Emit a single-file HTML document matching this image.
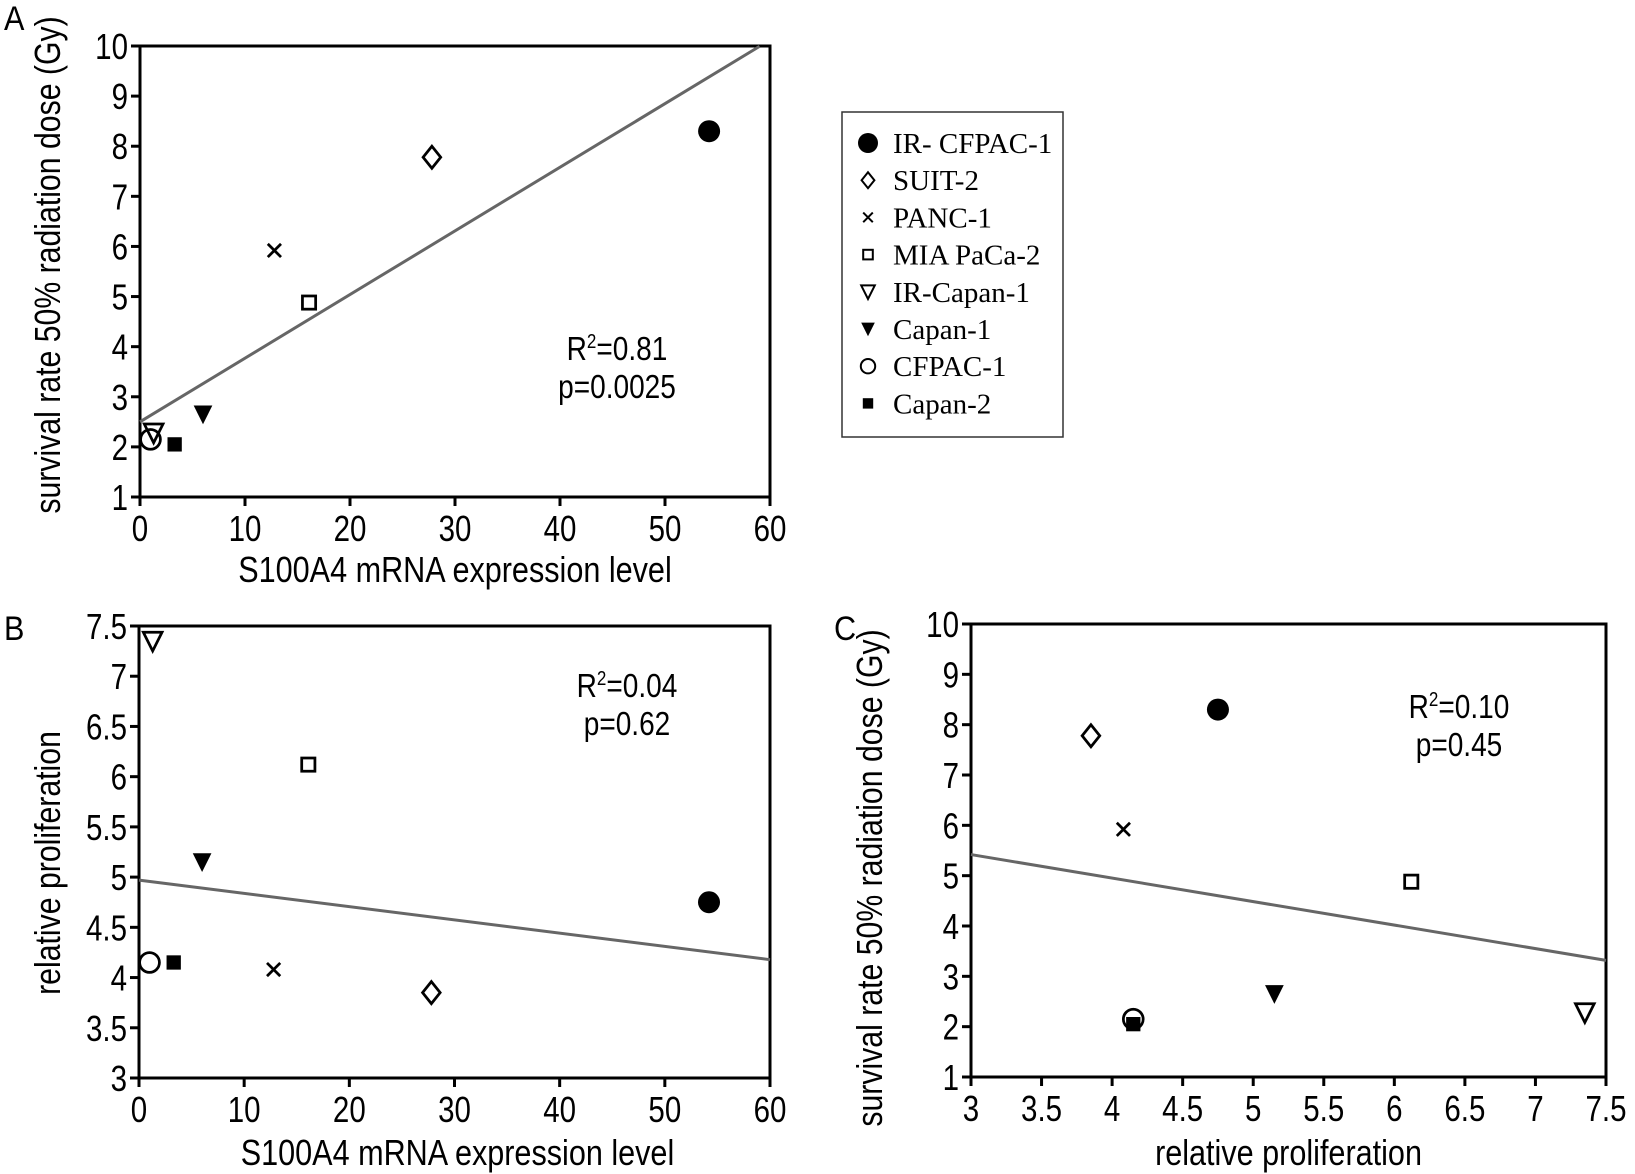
<!DOCTYPE html>
<html><head><meta charset="utf-8"><style>
html,body{margin:0;padding:0;background:#fff}
svg{display:block}
text{font-family:"Liberation Sans",sans-serif;fill:#000}
.serif{font-family:"Liberation Serif",serif}
</style></head><body>
<svg id="fig" width="1635" height="1174" viewBox="0 0 1635 1174"></svg>
<script>
const lines=["IR- CFPAC-1","SUIT-2","PANC-1","MIA PaCa-2","IR-Capan-1","Capan-1","CFPAC-1","Capan-2"];
const markers=["dot","diamond","cross","square","tri-open","tri-fill","circle","sqfill"];
const s100a4=[54.2,27.8,12.8,16.1,1.3,6.0,1.0,3.3];
const prolif=[4.75,3.85,4.08,6.12,7.35,5.15,4.15,4.15];
const dose=[8.3,7.78,5.92,4.88,2.28,2.65,2.15,2.05];
const fitA=[2.5,0.127];
const fitB=[4.97,-0.0132];
const fitC=[6.82,-0.467];
const ticksA_x=[0,10,20,30,40,50,60];
const ticksA_y=[1,2,3,4,5,6,7,8,9,10];
const ticksB_y=[3,3.5,4,4.5,5,5.5,6,6.5,7,7.5];
const ticksC_x=[3,3.5,4,4.5,5,5.5,6,6.5,7,7.5];

const NS="http://www.w3.org/2000/svg";
const svg=document.getElementById('fig');
function el(tag,attrs,parent){const e=document.createElementNS(NS,tag);for(const k in attrs)e.setAttribute(k,attrs[k]);(parent||svg).appendChild(e);return e;}
function txt(s,x,y,size,anchor,parent,sx,rot){
  const t=el('text',{'text-anchor':anchor||'middle','font-size':size,transform:`translate(${x},${y}) rotate(${rot||0}) scale(${sx||0.82},1)`},parent);
  t.textContent=s;return t;
}
function marker(type,cx,cy,s,parent){
  const g=el('g',{},parent);
  const sw=Math.max(2,s*0.25);
  if(type==='dot')el('ellipse',{cx,cy,rx:s*1.0,ry:s*1.0,fill:'#000'},g);
  else if(type==='circle')el('circle',{cx,cy,r:s*0.9,fill:'none',stroke:'#000','stroke-width':sw},g);
  else if(type==='diamond')el('polygon',{points:`${cx},${cy-s} ${cx+s*0.8},${cy} ${cx},${cy+s} ${cx-s*0.8},${cy}`,fill:'none',stroke:'#000','stroke-width':sw},g);
  else if(type==='cross'){const d=s*0.6;el('path',{d:`M${cx-d},${cy-d}L${cx+d},${cy+d}M${cx+d},${cy-d}L${cx-d},${cy+d}`,stroke:'#000','stroke-width':sw},g);}
  else if(type==='square'){const d=s*0.6;el('rect',{x:cx-d,y:cy-d,width:2*d,height:2*d,fill:'none',stroke:'#000','stroke-width':sw},g);}
  else if(type==='sqfill'){const d=s*0.65;el('rect',{x:cx-d,y:cy-d,width:2*d,height:2*d,fill:'#000'},g);}
  else if(type==='tri-open')el('polygon',{points:`${cx-s*0.85},${cy-s*0.8} ${cx+s*0.85},${cy-s*0.8} ${cx},${cy+s*0.9}`,fill:'none',stroke:'#000','stroke-width':sw},g);
  else if(type==='tri-fill')el('polygon',{points:`${cx-s*0.85},${cy-s*0.8} ${cx+s*0.85},${cy-s*0.8} ${cx},${cy+s*0.9}`,fill:'#000'},g);
  return g;
}
function panel(cfg){
  const g=el('g',{});
  
  
  const X=v=>cfg.px0+(v-cfg.xmin)/(cfg.xmax-cfg.xmin)*(cfg.px1-cfg.px0);
  const Y=v=>cfg.py0-(v-cfg.ymin)/(cfg.ymax-cfg.ymin)*(cfg.py0-cfg.py1);
  el('rect',{x:cfg.px0,y:cfg.py1,width:cfg.px1-cfg.px0,height:cfg.py0-cfg.py1,fill:'none',stroke:'#000','stroke-width':3},g);
  cfg.xt.forEach(v=>{el('line',{x1:X(v),x2:X(v),y1:cfg.py0,y2:cfg.py0+9,stroke:'#000','stroke-width':3},g);
    const t=txt(String(v),X(v),cfg.py0+44,36,'middle',g);});
  cfg.yt.forEach(v=>{el('line',{x1:cfg.px0-9,x2:cfg.px0,y1:Y(v),y2:Y(v),stroke:'#000','stroke-width':3},g);
    const t=txt(String(v),cfg.px0-12,Y(v)+13,36,'end',g);});
  const fx0=cfg.xmin, fx1=cfg.fitEnd;
  const ln=el('line',{x1:X(fx0),y1:Y(cfg.fit[0]+cfg.fit[1]*fx0),x2:X(fx1),y2:Y(cfg.fit[0]+cfg.fit[1]*fx1),stroke:'#666','stroke-width':3},g);
  
  cfg.xs.forEach((v,i)=>{const m=marker(markers[i],X(v),Y(cfg.ys[i]),11,g);
    
    });
  const xt=txt(cfg.xlabel,(cfg.px0+cfg.px1)/2+cfg.xlOff,cfg.xlY,36,'middle',g,0.85);
  
  const yt=txt(cfg.ylabel,cfg.ylX,cfg.ylY,36,'middle',g,1,-90);
  yt.setAttribute('transform',`translate(${cfg.ylX},${cfg.ylY}) rotate(-90) scale(0.84,1)`);
  
  const r=el('text',{'text-anchor':'middle','font-size':33,transform:`translate(${cfg.ax},${cfg.ay}) scale(0.85,1)`},g);
  
  r.innerHTML=`R<tspan font-size="20" dy="-12">2</tspan><tspan dy="12">=${cfg.r2}</tspan>`;
  const p=txt('p='+cfg.p,cfg.ax,cfg.ay+38,33,'middle',g,0.85);
  
  const L=txt(cfg.letter,cfg.lx,cfg.ly,34,'start',g,0.9);
  
}
panel({name:'panel-a',xmin:0,xmax:60,ymin:1,ymax:10,px0:140,px1:770,py0:497,py1:46,xt:ticksA_x,yt:ticksA_y,
  xs:s100a4,ys:dose,fit:fitA,fitEnd:59,xlabel:'S100A4 mRNA expression level',xlOff:0,xlY:582,
  ylabel:'survival rate 50% radiation dose (Gy)',ylX:60,ylY:265,ax:617,ay:360,r2:'0.81',p:'0.0025',letter:'A',lx:4,ly:30});
panel({name:'panel-b',xmin:0,xmax:60,ymin:3,ymax:7.5,px0:139,px1:770,py0:1078,py1:626,xt:ticksA_x,yt:ticksB_y,
  xs:s100a4,ys:prolif,fit:fitB,fitEnd:60,xlabel:'S100A4 mRNA expression level',xlOff:3,xlY:1165,
  ylabel:'relative proliferation',ylX:60,ylY:863,ax:627,ay:697,r2:'0.04',p:'0.62',letter:'B',lx:4,ly:640});
panel({name:'panel-c',xmin:3,xmax:7.5,ymin:1,ymax:10,px0:971,px1:1606,py0:1077,py1:624,xt:ticksC_x,yt:ticksA_y,
  xs:prolif,ys:dose,fit:fitC,fitEnd:7.5,xlabel:'relative proliferation',xlOff:0,xlY:1165,
  ylabel:'survival rate 50% radiation dose (Gy)',ylX:882,ylY:878,ax:1459,ay:718,r2:'0.10',p:'0.45',letter:'C',lx:834,ly:640});

const lg=el('g',{});


el('rect',{x:842,y:112,width:221,height:325,fill:'#fff',stroke:'#333','stroke-width':1.5},lg);
lines.forEach((n,i)=>{
  const y=143+i*37.2;
  const ent=el('g',{},lg);
  
  
  marker(markers[i],868,y,markers[i]==='dot'?10:8,ent);
  const t=el('text',{x:893,y:y+10,'font-size':29,class:'serif','text-anchor':'start'},ent);
  t.textContent=n;
});
</script>
</body></html>
